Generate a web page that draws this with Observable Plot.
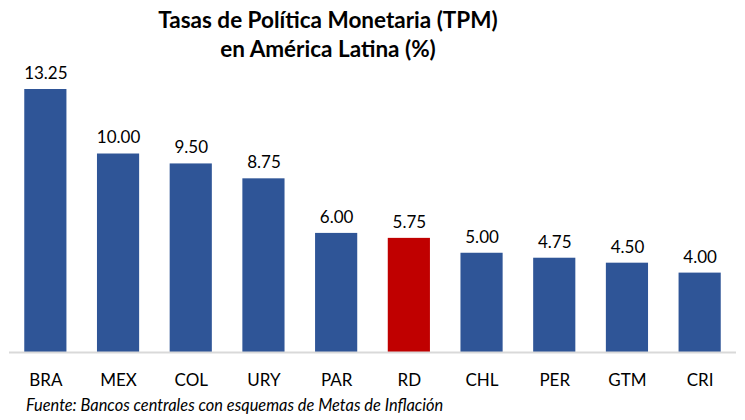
<!DOCTYPE html>
<html>
<head>
<meta charset="utf-8">
<script src="https://cdn.jsdelivr.net/npm/d3@7"></script>
<script src="https://cdn.jsdelivr.net/npm/@observablehq/plot@0.6"></script>
<style>
  html, body { margin: 0; padding: 0; background: #fff; }
  #wrap { position: relative; width: 745px; height: 420px; overflow: hidden; font-family: Lato, "Noto Sans", sans-serif; }
  #chart { position: absolute; left: 0; top: 50px; }
  #title { position: absolute; left: 0; top: 5px; width: 656px; text-align: center;
           font-weight: bold; font-size: 22.5px; line-height: 29px; color: #000; }
  #caption { position: absolute; left: 26px; top: 395px; font-style: italic; font-size: 16.4px; line-height: 1.2; color: #000; }
</style>
</head>
<body>
<div id="wrap">
  <div id="chart"></div>
  <div id="title">Tasas de Política Monetaria (TPM)<br>en América Latina (%)</div>
  <div id="caption">Fuente: Bancos centrales con esquemas de Metas de Inflación</div>
</div>
<script>
// Policy rates by country (%)
const countries = ["BRA", "MEX", "COL", "URY", "PAR", "RD", "CHL", "PER", "GTM", "CRI"];
const rates = [13.25, 10.00, 9.50, 8.75, 6.00, 5.75, 5.00, 4.75, 4.50, 4.00];
const highlight = "RD";

const data = countries.map((c, i) => ({country: c, rate: rates[i]}));

const chart = Plot.plot({
  width: 745,
  height: 345,
  marginTop: 39,
  marginBottom: 43,
  marginLeft: 9,
  marginRight: 9,
  style: {fontFamily: "Lato, 'Noto Sans', sans-serif", fontSize: "17px", color: "#000", background: "#fff"},
  x: {domain: countries, paddingInner: 0.42, paddingOuter: 0.21, round: false, label: null},
  y: {domain: [0, 13.25], axis: null},
  marks: [
    Plot.barY(data, {
      x: "country", y: "rate",
      fill: d => d.country === highlight ? "#C00000" : "#2F5597"
    }),
    Plot.ruleY([0], {stroke: "#D9D9D9", strokeWidth: 2}),
    Plot.text(data, {
      x: "country", y: "rate",
      text: d => d.rate.toFixed(2),
      dy: -16, lineAnchor: "middle", fill: "#000", fontSize: 17
    }),
    Plot.axisX({tickSize: 0, tickPadding: 21, fontSize: 17, fill: "#000", label: null})
  ]
});
document.getElementById("chart").append(chart);
</script>
</body>
</html>
